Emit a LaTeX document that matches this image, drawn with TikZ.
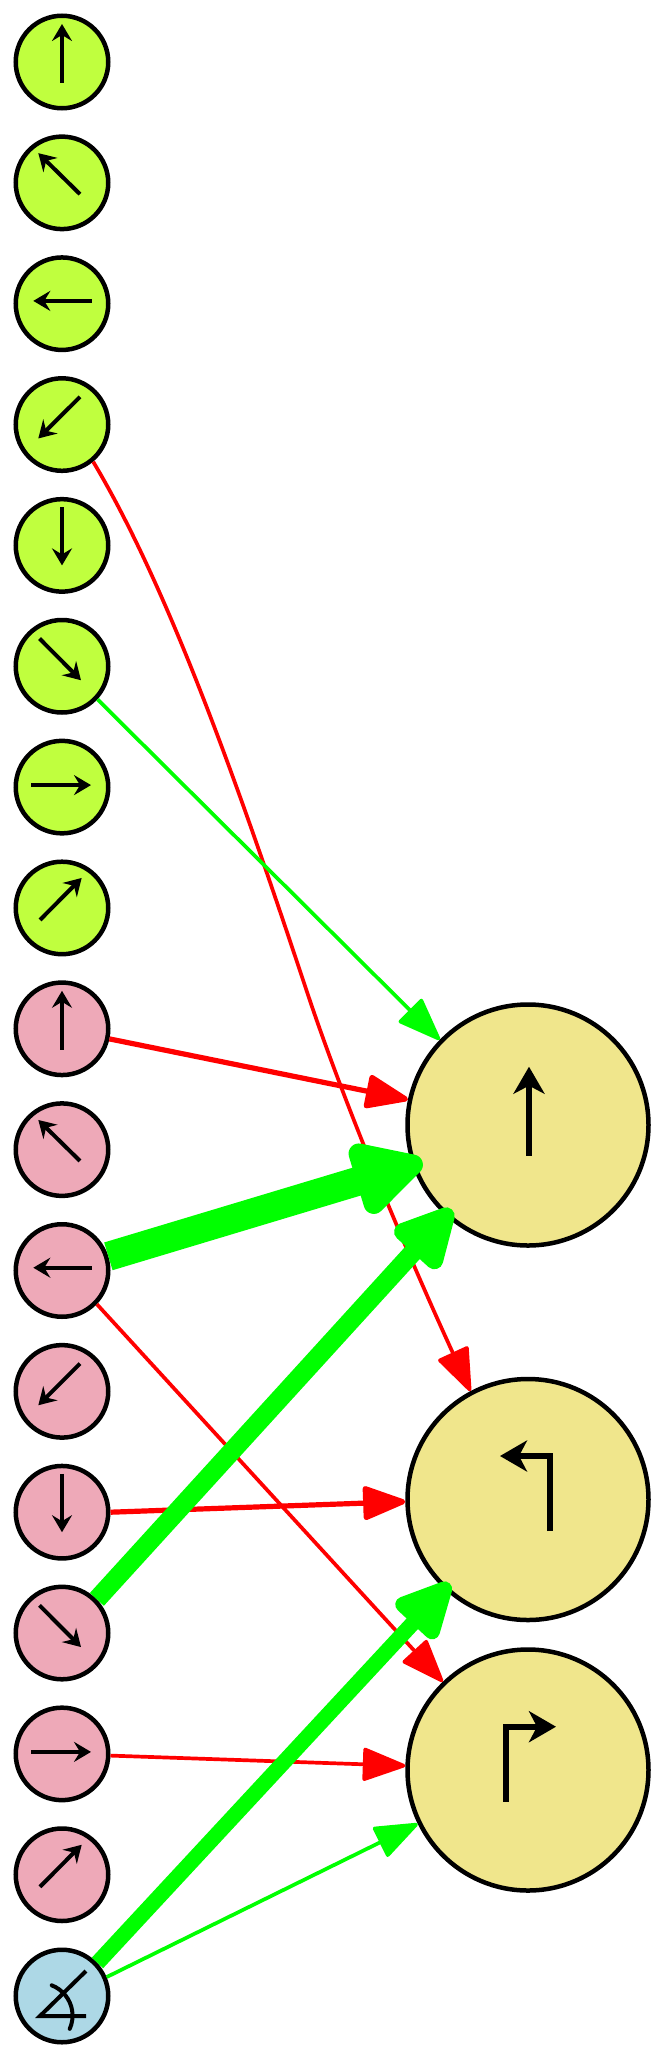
\documentclass[tikz,border=0pt]{standalone}
\usepackage{tikz}
\usetikzlibrary{arrows.meta}
\definecolor{limein}{HTML}{C0FF3E}
\definecolor{pinkin}{HTML}{EEA9B8}
\definecolor{bluein}{HTML}{ADD8E6}
\definecolor{khakiout}{HTML}{F0E68C}
\definecolor{wirered}{HTML}{FF0000}
\definecolor{wiregreen}{HTML}{00FF00}
\tikzset{
	inbox/.style = {circle, draw=black, line width=0.045cm, minimum size=0.925cm, inner sep=0pt},
	outbox/.style = {circle, draw=black, line width=0.045cm, minimum size=2.41cm, inner sep=0pt},
	smallglyph/.style = {line width=0.04cm, -{Stealth[length=0.17cm, width=0.20cm, inset=0.06cm]}},
	bigglyph/.style = {line width=0.06cm, -{Stealth[length=0.27cm, width=0.31cm, inset=0.08cm]}},
	wire/.style n args = {3}{line width=#1, -{Triangle[round, line width=#1, length=#2, width=#3]}},
	thinwire/.style = {wire={0.037cm}{0.46cm}{0.34cm}},
	midwire/.style = {wire={0.052cm}{0.47cm}{0.35cm}}
}
\begin{document}
\begin{tikzpicture}
	\useasboundingbox (0,0) rectangle (6.67,-20.58);
	% inputs
	\foreach \k in {1,...,8}
		\node [inbox, fill=limein] (in\k) at (0.62, {-0.62-(\k-1)*1.2085}) {};
	\foreach \k in {9,...,16}
		\node [inbox, fill=pinkin] (in\k) at (0.62, {-0.62-(\k-1)*1.2085}) {};
	\node [inbox, fill=bluein] (in17) at (0.62, -19.96) {};
	% outputs
	\node [outbox, fill=khakiout] (forward) at (5.28, -11.25) {};
	\node [outbox, fill=khakiout] (left) at (5.28, -14.995) {};
	\node [outbox, fill=khakiout] (right) at (5.28, -17.70) {};
	% direction arrows
	\foreach \a/\tx/\ty/\hx/\hy in {
		1/0/-0.207/0/0.38,
		2/0.18/-0.113/-0.237/0.297,
		3/0.297/0.028/-0.287/0.028,
		4/0.18/0.277/-0.237/-0.139,
		5/0/0.383/0/-0.20,
		6/-0.225/0.277/0.19/-0.14,
		7/-0.306/0.02/0.29/0.02,
		8/-0.22/-0.12/0.197/0.30} {
		\pgfmathtruncatemacro{\b}{\a+8}
		\draw [smallglyph] ([shift={(\tx,\ty)}]in\a.center) -- ([shift={(\hx,\hy)}]in\a.center);
		\draw [smallglyph] ([shift={(\tx,\ty)}]in\b.center) -- ([shift={(\hx,\hy)}]in\b.center);
	}
	% angle sign
	\draw [line width=0.04cm] ([shift={(0.24,0.25)}]in17.center) -- ([shift={(-0.22,-0.20)}]in17.center) -- ([shift={(0.24,-0.20)}]in17.center);
	\draw [line width=0.04cm, line cap=round] ([shift={(-0.103,0.107)}]in17.center) arc (69:-24:0.325);
	% turn arrows
	\draw [bigglyph] ([shift={(0.01,-0.307)}]forward.center) -- ([shift={(0.01,0.583)}]forward.center);
	\draw [bigglyph] ([shift={(0.22,-0.315)}]left.center) -- ([shift={(0.22,0.435)}]left.center) -- ([shift={(-0.28,0.435)}]left.center);
	\draw [bigglyph] ([shift={(-0.22,-0.317)}]right.center) -- ([shift={(-0.22,0.433)}]right.center) -- ([shift={(0.28,0.433)}]right.center);
	% inhibitory
	\draw [thinwire, wirered] (in4.-50) .. controls (1.68,-5.87) and (2.37,-7.81) .. (3.067,-9.91)
		.. controls (3.50,-11.21) and (4.18,-12.77) .. (left.118);
	\draw [midwire, wirered] (in9.-12) -- (forward.168);
	\draw [thinwire, wirered] (in11.-44) -- (right.134);
	\draw [midwire, wirered] (in13.0) -- (left.181);
	\draw [thinwire, wirered] (in15.-2) -- (right.178);
	% excitatory
	\draw [thinwire, wiregreen] (in6.-43) -- (forward.136);
	\draw [wire={0.29cm}{0.82cm}{0.80cm}, wiregreen, shorten >=-0.11cm] (in11.17) -- (forward.199);
	\draw [wire={0.19cm}{0.70cm}{0.66cm}, wiregreen, shorten >=-0.09cm] (in14.44) -- (forward.228);
	\draw [wire={0.155cm}{0.66cm}{0.60cm}, wiregreen, shorten >=-0.08cm] (in17.43) -- (left.227);
	\draw [thinwire, wiregreen] (in17.23) -- (right.206);
\end{tikzpicture}
\end{document}
